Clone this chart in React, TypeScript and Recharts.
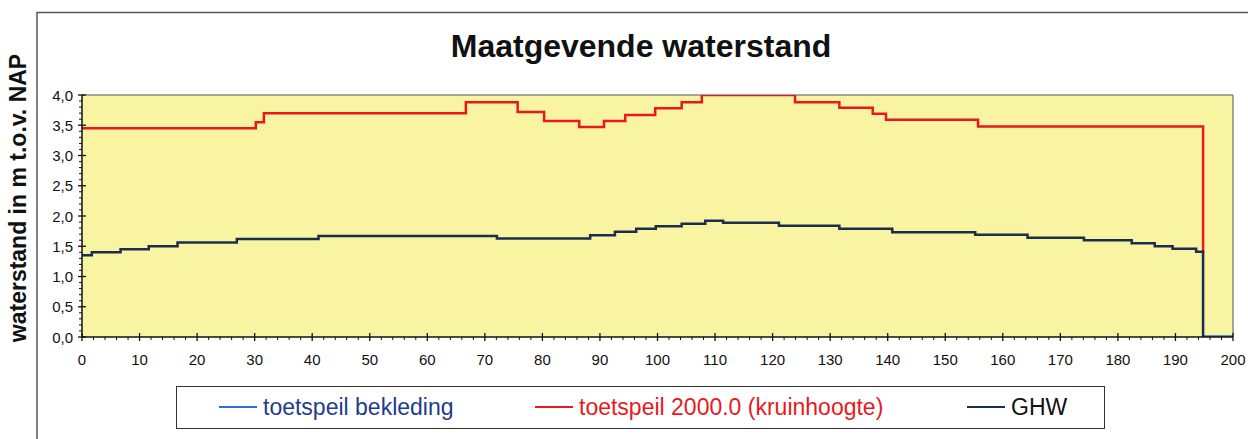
import React from 'react';
import { LineChart, Line, XAxis, YAxis, CartesianGrid, Legend, ReferenceLine } from 'recharts';

// toetspeil 2000.0 (kruinhoogte): step start (km) and level (m t.o.v. NAP)
const kruinKm = [0, 30.2, 31.6, 66.7, 75.7, 80.3, 86.4, 90.7, 94.4, 99.6, 104.2, 107.7, 123.9, 131.6, 137.4, 139.7, 155.7, 194.8];
const kruinVal = [3.45, 3.55, 3.7, 3.88, 3.72, 3.57, 3.47, 3.57, 3.67, 3.78, 3.88, 4.0, 3.88, 3.79, 3.69, 3.59, 3.48, 1.39];

// GHW
const ghwKm = [0, 1.7, 6.7, 11.6, 16.6, 26.9, 41.1, 72.1, 88.3, 92.6, 96.3, 99.7, 104.2, 108.3, 111.4, 121.1, 131.6, 140.8, 155.2, 164.3, 174.1, 182.4, 186.4, 189.5, 193.6, 194.8];
const ghwVal = [1.35, 1.4, 1.45, 1.5, 1.56, 1.62, 1.67, 1.63, 1.68, 1.74, 1.79, 1.83, 1.87, 1.92, 1.89, 1.84, 1.79, 1.73, 1.69, 1.64, 1.6, 1.55, 1.5, 1.46, 1.41, 0];

// toetspeil bekleding (only visible part)
const beklKm = [194.8, 200];
const beklVal = [0, 0];

const seriesNames = ['toetspeil bekleding', 'toetspeil 2000.0 (kruinhoogte)', 'GHW'];
const seriesColors = ['#2f6fc4', '#e8191c', '#1b2d4c'];
const legendTextColors = ['#1c3c8c', '#e8191c', '#111111'];

const titleText = 'Maatgevende waterstand';
const yLabelText = 'waterstand in m t.o.v. NAP';

const xTicks = Array.from({ length: 101 }, (_, i) => i * 2);
const yTicks = Array.from({ length: 41 }, (_, i) => i / 10);

const toData = (km: number[], val: number[]) => km.map((k, i) => ({ km: k, v: val[i] }));
const kruinData = toData(kruinKm, kruinVal);
const ghwData = toData(ghwKm, ghwVal);
const beklData = toData(beklKm, beklVal);

const FONT = "'Liberation Sans', Arial, Helvetica, sans-serif";

const XTick = (props: any) => {
  const { x, y, payload } = props;
  const v = payload.value;
  const major = Math.round(v) % 10 === 0;
  return (
    <g>
      {major ? (
        <line x1={x} x2={x} y1={y - 4} y2={y + 4} stroke="#111" strokeWidth={1.3} />
      ) : (
        <line x1={x} x2={x} y1={y} y2={y + 3} stroke="#111" strokeWidth={1} />
      )}
      {major && (
        <text x={x} y={y + 22} textAnchor="middle" dominantBaseline="central" fontSize={15} fill="#111" fontFamily={FONT}>
          {v}
        </text>
      )}
    </g>
  );
};

const YTick = (props: any) => {
  const { x, y, payload } = props;
  const v = payload.value;
  const major = Math.round(v * 10) % 5 === 0;
  return (
    <g>
      {major ? (
        <line x1={x - 4} x2={x + 4} y1={y} y2={y} stroke="#111" strokeWidth={1.3} />
      ) : (
        <line x1={x - 3} x2={x} y1={y} y2={y} stroke="#111" strokeWidth={1} />
      )}
      {major && (
        <text x={x - 9} y={y} textAnchor="end" dominantBaseline="central" fontSize={15} fill="#111" fontFamily={FONT}>
          {v.toFixed(1).replace('.', ',')}
        </text>
      )}
    </g>
  );
};

const legendOffsets = [42, 358, 790];

const LegendBox = (props: any) => {
  const payload = props.payload || [];
  return (
    <div
      style={{
        position: 'relative',
        width: 929,
        height: 43,
        border: '1.5px solid #333',
        boxSizing: 'border-box',
        background: '#fff',
        fontFamily: FONT,
      }}
    >
      {payload.map((p: any, i: number) => {
        const idx = seriesNames.indexOf(p.value);
        return (
          <div
            key={i}
            style={{
              position: 'absolute',
              left: legendOffsets[idx],
              top: 0,
              height: 40,
              display: 'flex',
              alignItems: 'center',
              whiteSpace: 'nowrap',
            }}
          >
            <div style={{ width: 38, height: 2, background: seriesColors[idx], marginRight: 6 }} />
            <span style={{ fontSize: 23, color: legendTextColors[idx] }}>{p.value}</span>
          </div>
        );
      })}
    </div>
  );
};

export default function App() {
  return (
    <div style={{ position: 'absolute', left: 0, top: 0, width: 1248, height: 439, background: '#fff', overflow: 'hidden' }}>
      <svg width={1248} height={439} style={{ position: 'absolute', left: 0, top: 0 }}>
        <line x1={37} y1={12.5} x2={1248} y2={12.5} stroke="#555" strokeWidth={1.5} />
        <line x1={37} y1={12} x2={37} y2={439} stroke="#555" strokeWidth={1.5} />
        <text x={641} y={57} textAnchor="middle" fontSize={32} fontWeight="bold" fill="#111" fontFamily={FONT}>
          {titleText}
        </text>
        <text
          x={0}
          y={0}
          transform="translate(26 198) rotate(-90)"
          textAnchor="middle"
          fontSize={23}
          fontWeight="bold"
          fill="#111"
          fontFamily={FONT}
        >
          {yLabelText}
        </text>
      </svg>
      <div style={{ position: 'absolute', left: 0, top: 0 }}>
        <LineChart width={1248} height={439} margin={{ top: 95, right: 15, bottom: 72, left: 37 }}>
          <CartesianGrid horizontal={false} vertical={false} fill="#f8f4a2" />
          <XAxis
            dataKey="km"
            type="number"
            domain={[0, 200]}
            ticks={xTicks}
            interval={0}
            tick={<XTick />}
            tickLine={false}
            tickSize={0}
            tickMargin={0}
            height={30}
            axisLine={{ stroke: '#111', strokeWidth: 1.5 }}
            allowDataOverflow
          />
          <YAxis
            type="number"
            domain={[0, 4]}
            ticks={yTicks}
            interval={0}
            tick={<YTick />}
            tickLine={false}
            tickSize={0}
            tickMargin={0}
            width={45}
            axisLine={{ stroke: '#111', strokeWidth: 1.5 }}
            allowDataOverflow
          />
          <ReferenceLine y={4} stroke="#8a8a8a" strokeWidth={1.5} />
          <ReferenceLine x={200} stroke="#8a8a8a" strokeWidth={1.5} />
          <Line
            data={beklData}
            dataKey="v"
            name={seriesNames[0]}
            type="stepAfter"
            stroke={seriesColors[0]}
            strokeWidth={3.5}
            dot={false}
            isAnimationActive={false}
          />
          <Line
            data={kruinData}
            dataKey="v"
            name={seriesNames[1]}
            type="stepAfter"
            stroke={seriesColors[1]}
            strokeWidth={2.5}
            dot={false}
            isAnimationActive={false}
          />
          <Line
            data={ghwData}
            dataKey="v"
            name={seriesNames[2]}
            type="stepAfter"
            stroke={seriesColors[2]}
            strokeWidth={2.5}
            dot={false}
            isAnimationActive={false}
          />
          <Legend
            layout="horizontal"
            verticalAlign="middle"
            align="center"
            wrapperStyle={{ position: 'absolute', left: 176, top: 386, width: 929, height: 43, margin: 0 }}
            content={(p: any) => <LegendBox {...p} />}
          />
        </LineChart>
      </div>
    </div>
  );
}
